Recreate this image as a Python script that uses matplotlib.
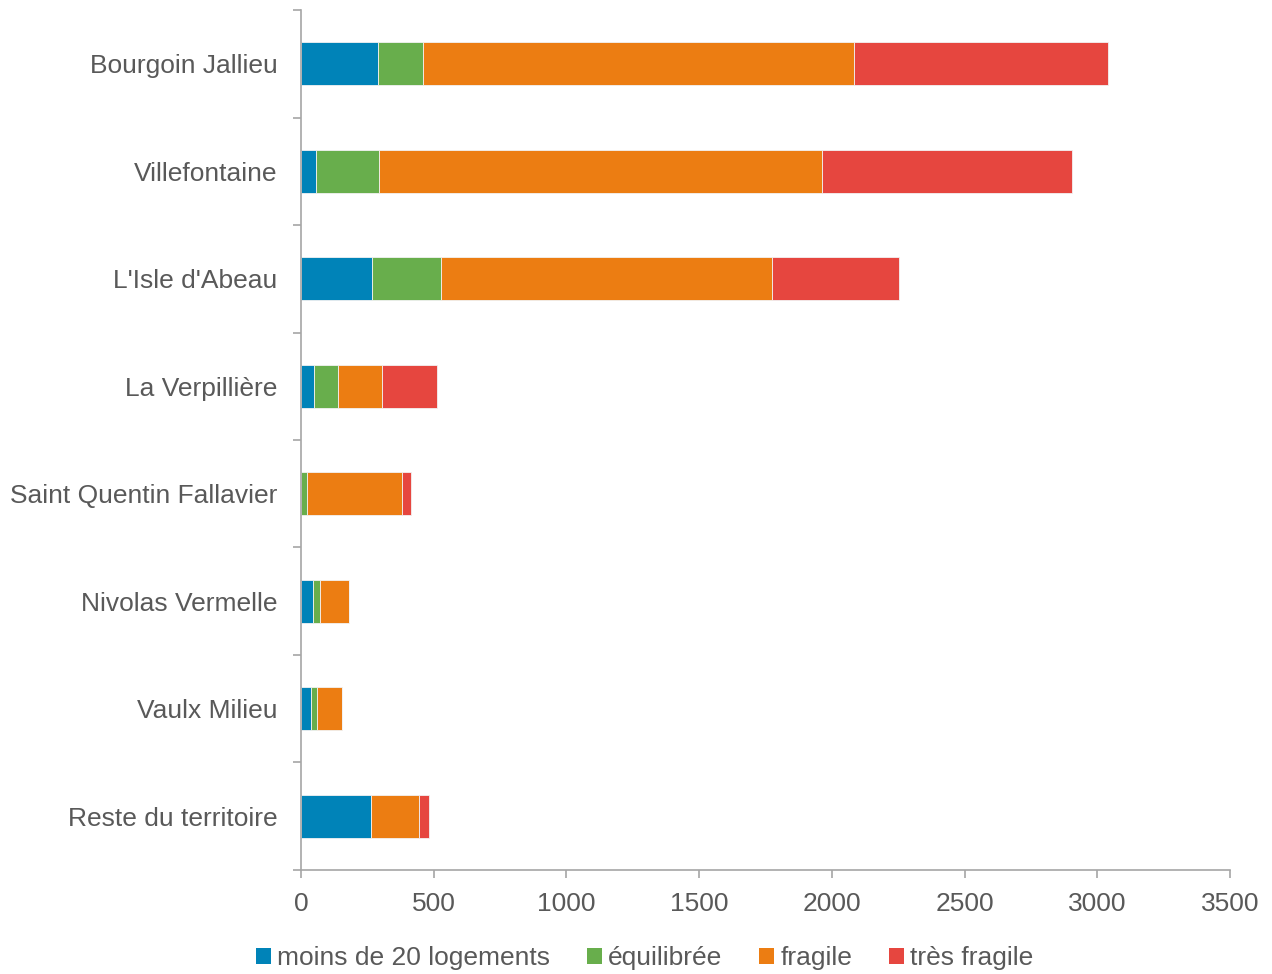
import matplotlib
matplotlib.use("Agg")
import matplotlib.pyplot as plt
import numpy as np

plt.rcParams['font.family'] = ['Liberation Sans', 'DejaVu Sans']

communes = ["Bourgoin Jallieu", "Villefontaine", "L'Isle d'Abeau", "La Verpillière",
            "Saint Quentin Fallavier", "Nivolas Vermelle", "Vaulx Milieu", "Reste du territoire"]
moins_20 = [289, 55, 269, 51, 0, 47, 36, 262]
equilibree = [172, 238, 260, 90, 23, 23, 24, 0]
fragile = [1621, 1669, 1244, 163, 358, 110, 93, 181]
tres_fragile = [958, 941, 479, 209, 32, 0, 0, 39]

series = [("moins de 20 logements", moins_20, "#0083B8"),
          ("équilibrée", equilibree, "#68AE4C"),
          ("fragile", fragile, "#EC7D12"),
          ("très fragile", tres_fragile, "#E6463F")]

text_color = "#595959"
axis_color = "#A6A6A6"
fs = 19

fig = plt.figure(figsize=(12.72, 9.74), dpi=100)
ax = fig.add_axes([0.2366, 0.1068, 0.7304, 0.8829])

y = np.arange(len(communes))
left = np.zeros(len(communes))
for name, vals, col in series:
    vals = np.array(vals, dtype=float)
    ax.barh(y, vals, left=left, height=0.4, color=col, label=name,
            edgecolor="#F2F2F2", linewidth=0.6)
    left += vals

ax.set_ylim(len(communes) - 0.5, -0.5)
ax.set_xlim(0, 3500)
ax.set_xticks(np.arange(0, 3501, 500))
ax.set_yticks(y)
ax.set_yticklabels(communes)
ax.set_yticks(np.arange(-0.5, len(communes) + 0.5, 1), minor=True)

for s in ["top", "right"]:
    ax.spines[s].set_visible(False)
for s in ["left", "bottom"]:
    ax.spines[s].set_color(axis_color)
    ax.spines[s].set_linewidth(1.2)

ax.tick_params(axis="y", which="major", length=0, pad=17, labelsize=fs, labelcolor=text_color)
ax.tick_params(axis="y", which="minor", length=6, color=axis_color, width=1.2, direction="out")
ax.tick_params(axis="x", which="major", length=6, color=axis_color, width=1.2, direction="out",
               pad=10, labelsize=fs, labelcolor=text_color)

leg = fig.legend(loc="center", bbox_to_anchor=(0.507, 0.016), ncol=4, frameon=False,
                 fontsize=fs, handlelength=0.55, handleheight=0.55, handletextpad=0.25,
                 columnspacing=1.4)
for t in leg.get_texts():
    t.set_color(text_color)
for h in leg.legend_handles:
    h.set_linewidth(0)

fig.savefig("out.png", dpi=100, facecolor="white")
